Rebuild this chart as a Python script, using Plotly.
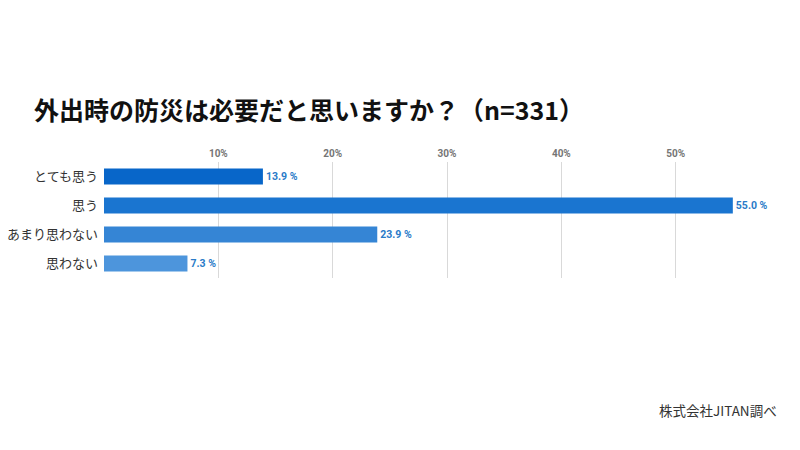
import plotly.graph_objects as go

categories = ["とても思う", "思う", "あまり思わない", "思わない"]
values = [13.9, 55.0, 23.9, 7.3]
value_labels = ["13.9 %", "55.0 %", "23.9 %", "7.3 %"]
bar_colors = ["#0866C9", "#1A75D0", "#3585D5", "#4D95DC"]
tick_vals = [10, 20, 30, 40, 50]
tick_text = ["10%", "20%", "30%", "40%", "50%"]

fig = go.Figure()
fig.add_trace(go.Bar(
    y=categories, x=values, orientation="h",
    marker=dict(color=bar_colors, line=dict(width=0)),
    text=value_labels, textposition="outside", cliponaxis=False,
    textfont=dict(family="Roboto, Noto Sans CJK JP", size=10.5, color="#2A7BC8", weight="bold"),
    width=0.56,
))

fig.update_layout(
    width=800, height=450,
    paper_bgcolor="white", plot_bgcolor="white",
    margin=dict(l=104, r=10, t=162, b=172, autoexpand=False),
    showlegend=False,
    font=dict(family="Noto Sans CJK JP"),
    xaxis=dict(range=[0, 60], side="top", tickvals=tick_vals, ticktext=tick_text,
               showgrid=True, gridcolor="#D9D9D9", gridwidth=1, zeroline=False,
               showline=False, ticks="", ticklabelstandoff=2, automargin=False,
               tickfont=dict(family="Roboto", size=10, color="#757575", weight="bold")),
    yaxis=dict(autorange="reversed", showgrid=False, zeroline=False, showline=False,
               ticks="", ticklabelstandoff=5, automargin=False,
               tickfont=dict(family="Noto Sans CJK JP", size=13, color="#333333")),
    annotations=[
        dict(text="<b>外出時の防災は必要だと思いますか？（n=331）</b>", xref="paper", yref="paper",
             x=(32 - 104) / 686, y=1 + (162 - 109) / 116, xanchor="left", yanchor="middle",
             showarrow=False, font=dict(family="Noto Sans CJK JP", size=25, color="#111111")),
        dict(text="株式会社JITAN調べ", xref="paper", yref="paper",
             x=(779 - 104) / 686, y=-(410 - 278) / 116, xanchor="right", yanchor="middle",
             showarrow=False, font=dict(family="Noto Sans CJK JP", size=13.5, color="#333333")),
    ],
)

fig.write_html("out.html")
